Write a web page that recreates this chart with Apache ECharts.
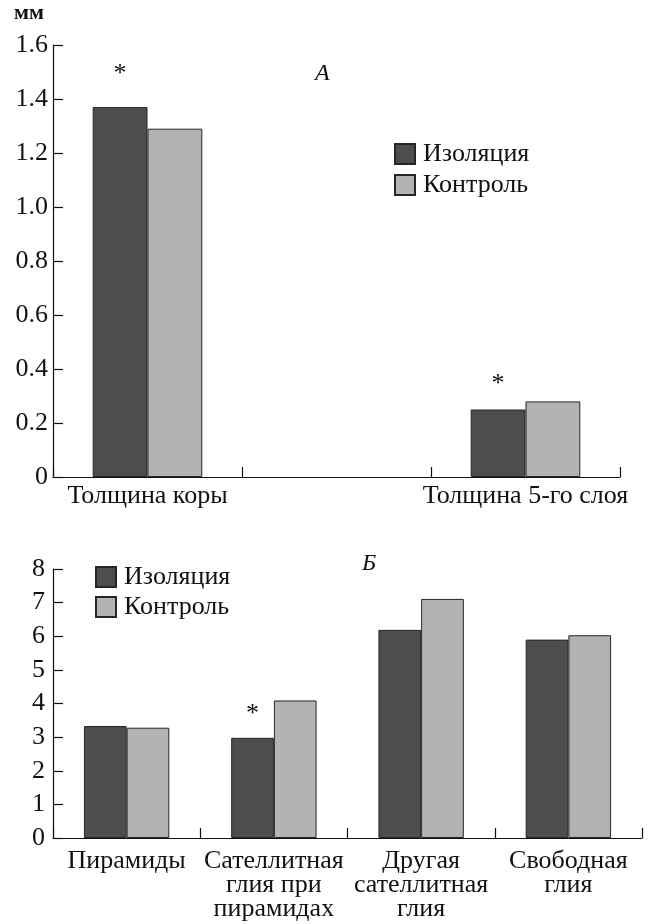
<!DOCTYPE html>
<html>
<head>
<meta charset="utf-8">
<script src="https://cdn.jsdelivr.net/npm/echarts@6/dist/echarts.min.js"></script>
<style>
  html, body { margin: 0; padding: 0; background: #fff; }
  #chart { width: 649px; height: 924px; }
</style>
</head>
<body>
<div id="chart"></div>
<script>
// Panel A: thickness, mm
const catsA = ['Толщина коры', '', 'Толщина 5-го слоя'];
const isoA = [1.37, '-', 0.25];
const ctrlA = [1.29, '-', 0.28];
const sigA = [true, false, true];

// Panel Б: cell density
const catsB = ['Пирамиды', 'Сателлитная\nглия при\nпирамидах', 'Другая\nсателлитная\nглия', 'Свободная\nглия'];
const isoB = [3.33, 2.98, 6.19, 5.9];
const ctrlB = [3.28, 4.09, 7.11, 6.03];
const sigB = [false, true, false, false];

const seriesNames = ['Изоляция', 'Контроль'];

const FONT = 'Liberation Serif';
const DARK = '#4d4d4d';
const LIGHT = '#b3b3b3';
const EDGE = '#262626';

const withStars = (values, sig, dist) => values.map((v, i) => sig[i]
  ? { value: v, label: { show: true, position: 'top', distance: dist[i], formatter: '*', fontFamily: FONT, fontSize: 26, color: '#111' } }
  : v);

const chart = echarts.init(document.getElementById('chart'));

const axisLine = { show: true, lineStyle: { color: '#111', width: 1.2 } };
const tick = { show: true, inside: true, length: 10, lineStyle: { color: '#111', width: 1.2 } };

const barStyle = (color) => ({ color: color, borderColor: EDGE, borderWidth: 1 });

const legendText = { fontFamily: FONT, fontSize: 26, color: '#111', lineHeight: 22, padding: [0, 0, 0, 3] };

const option = {
  animation: false,
  backgroundColor: '#fff',
  textStyle: { fontFamily: FONT },
  grid: [
    { left: 53, right: 29, top: 45, bottom: 447 },
    { left: 53, right: 7, top: 569, bottom: 86 }
  ],
  legend: [
    {
      data: seriesNames, orient: 'vertical', left: 394, top: 141, padding: 0,
      icon: 'rect', itemWidth: 20, itemHeight: 20, itemGap: 5,
      textStyle: legendText, selectedMode: false
    },
    {
      data: seriesNames, orient: 'vertical', left: 95, top: 564, padding: 0,
      icon: 'rect', itemWidth: 20, itemHeight: 20, itemGap: 4,
      textStyle: legendText, selectedMode: false
    }
  ],
  xAxis: [
    {
      type: 'category', gridIndex: 0, data: catsA,
      axisLine: axisLine, axisTick: tick,
      axisLabel: { fontFamily: FONT, fontSize: 26, color: '#111', margin: 7, lineHeight: 25, interval: 0 }
    },
    {
      type: 'category', gridIndex: 1, data: catsB,
      axisLine: axisLine, axisTick: tick,
      axisLabel: { fontFamily: FONT, fontSize: 26, color: '#111', margin: 11, lineHeight: 24, interval: 0 }
    }
  ],
  yAxis: [
    {
      type: 'value', gridIndex: 0, min: 0, max: 1.6, interval: 0.2,
      axisLine: axisLine, axisTick: tick, splitLine: { show: false },
      axisLabel: {
        fontFamily: FONT, fontSize: 26, color: '#111', margin: 5,
        formatter: (v) => v === 0 ? '0' : v.toFixed(1)
      }
    },
    {
      type: 'value', gridIndex: 1, min: 0, max: 8, interval: 1,
      axisLine: axisLine, axisTick: tick, splitLine: { show: false },
      axisLabel: { fontFamily: FONT, fontSize: 26, color: '#111', margin: 8 }
    }
  ],
  series: [
    {
      name: seriesNames[0], type: 'bar', xAxisIndex: 0, yAxisIndex: 0,
      data: withStars(isoA, sigA, [20, 0, 12]),
      barGap: '0%', barCategoryGap: '42%', itemStyle: barStyle(DARK)
    },
    {
      name: seriesNames[1], type: 'bar', xAxisIndex: 0, yAxisIndex: 0,
      data: ctrlA,
      barGap: '0%', barCategoryGap: '42%', itemStyle: barStyle(LIGHT)
    },
    {
      name: seriesNames[0], type: 'bar', xAxisIndex: 1, yAxisIndex: 1,
      data: withStars(isoB, sigB, [0, 11, 0, 0]),
      barGap: '0%', barCategoryGap: '42%', itemStyle: barStyle(DARK)
    },
    {
      name: seriesNames[1], type: 'bar', xAxisIndex: 1, yAxisIndex: 1,
      data: ctrlB,
      barGap: '0%', barCategoryGap: '42%', itemStyle: barStyle(LIGHT)
    }
  ],
  graphic: [
    { type: 'text', left: 14, top: 2, style: { text: 'мм', fontFamily: FONT, fontSize: 22, fontWeight: 'bold', fill: '#111' } },
    { type: 'text', left: 315, top: 62, style: { text: 'A', fontFamily: FONT, fontSize: 24, fontStyle: 'italic', fill: '#111' } },
    { type: 'text', left: 362, top: 552, style: { text: 'Б', fontFamily: FONT, fontSize: 24, fontStyle: 'italic', fill: '#111' } }
  ]
};

chart.setOption(option);
</script>
</body>
</html>
